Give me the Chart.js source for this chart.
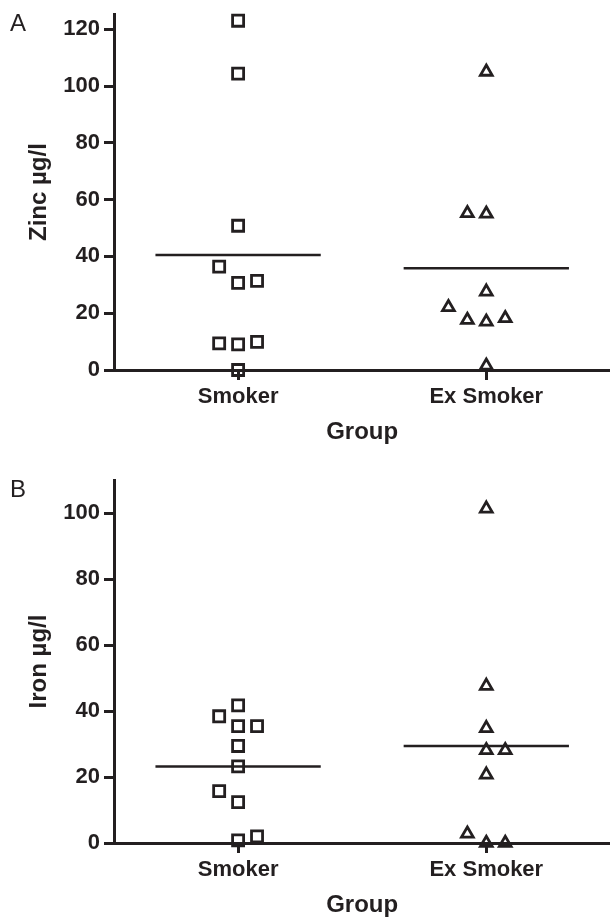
<!DOCTYPE html>
<html>
<head>
<meta charset="utf-8">
<script src="https://cdn.jsdelivr.net/npm/chart.js@4.4.1/dist/chart.umd.min.js"></script>
<style>
html, body { margin: 0; padding: 0; background: #fff; overflow: hidden; }
canvas { display: block; }
#zincChart { margin-top: -3px; }
</style>
</head>
<body>
<canvas id="zincChart" width="621" height="450"></canvas>
<canvas id="ironChart" width="621" height="473"></canvas>
<script>
const groups = ["Smoker", "Ex Smoker"];

// zinc, ug/l  (slot = column-scatter position beside the centre)
const zincSmoker = [123, 104.4, 50.8, 36.4, 30.7, 31.4, 9.4, 9.0, 9.9, 0];
const zincSmokerSlot = [0, 0, 0, -1, 0, 1, -1, 0, 1, 0];
const zincExSmoker = [105, 55.2, 55, 27.6, 22.1, 17.6, 17, 18.2, 1.5];
const zincExSmokerSlot = [0, -1, 0, 0, -2, -1, 0, 1, 0];
const zincMeans = [40.5, 35.8];
const zincTicks = [0, 20, 40, 60, 80, 100, 120];

// iron, ug/l
const ironSmoker = [41.7, 38.4, 35.4, 35.4, 29.4, 23.2, 15.7, 12.4, 2.0, 0.8];
const ironSmokerSlot = [0, -1, 0, 1, 0, 0, -1, 0, 1, 0];
const ironExSmoker = [101.3, 47.6, 34.8, 28.1, 28.1, 20.7, 2.8, 0, 0];
const ironExSmokerSlot = [0, 0, 0, 0, 1, 0, -1, 0, 1];
const ironMeans = [23.2, 29.4];
const ironTicks = [0, 20, 40, 60, 80, 100];

const ink = "#231f20";
const fontFamily = "'Liberation Sans', Arial, Helvetica, sans-serif";
const slotWidth = 0.0763;
const meanHalf = 0.333;

function toPoints(values, slots, groupIndex) {
    return values.map((v, i) => ({ x: groupIndex + 1 + slots[i] * slotWidth, y: v }));
}

function meanLine(mean, groupIndex) {
    return {
        type: "line",
        data: [{ x: groupIndex + 1 - meanHalf, y: mean }, { x: groupIndex + 1 + meanHalf, y: mean }],
        borderColor: ink,
        borderWidth: 2.5,
        pointRadius: 0,
        showLine: true,
        clip: false
    };
}

const panelLetter = {
    id: "panelLetter",
    afterDraw(chart, args, opts) {
        let ctx = chart.ctx;
        ctx.save();
        ctx.fillStyle = ink;
        ctx.font = "24px " + fontFamily;
        ctx.textBaseline = "middle";
        ctx.fillText(opts.text, opts.x, opts.y);
        ctx.restore();
    }
};

function makeChart(id, letter, letterY, yTitle, yMax, ticks, smoker, smokerSlot, ex, exSlot, means, topPad) {
    let ctx = document.getElementById(id).getContext("2d");
    new Chart(ctx, {
        type: "scatter",
        data: {
            datasets: [
                {
                    data: toPoints(smoker, smokerSlot, 0),
                    pointStyle: "rect",
                    pointRadius: 7.8,
                    pointBorderWidth: 2.8,
                    pointBorderColor: ink,
                    pointBackgroundColor: "transparent",
                    clip: false
                },
                {
                    data: toPoints(ex, exSlot, 1),
                    pointStyle: "triangle",
                    pointRadius: 6.8,
                    pointBorderWidth: 2.8,
                    pointBorderColor: ink,
                    pointBackgroundColor: "transparent",
                    clip: false
                },
                meanLine(means[0], 0),
                meanLine(means[1], 1)
            ]
        },
        options: {
            responsive: false,
            animation: false,
            layout: { padding: { top: topPad, left: 0, right: 0, bottom: 0 } },
            plugins: {
                legend: { display: false },
                tooltip: { enabled: false },
                panelLetter: { text: letter, x: 10, y: letterY }
            },
            scales: {
                x: {
                    type: "linear",
                    min: 0.5,
                    max: 2.5,
                    afterBuildTicks: (s) => { s.ticks = groups.map((g, i) => ({ value: i + 1 })); },
                    afterFit: (s) => { s.height = 77; },
                    ticks: {
                        callback: (v) => groups[Math.round(v) - 1],
                        color: ink,
                        font: { family: fontFamily, size: 22, weight: "bold" },
                        padding: 4,
                        maxRotation: 0
                    },
                    grid: { drawOnChartArea: false, tickLength: 10, tickWidth: 3, tickColor: ink },
                    border: { color: ink, width: 3 },
                    title: {
                        display: true,
                        text: "Group",
                        color: ink,
                        font: { family: fontFamily, size: 24, weight: "bold" },
                        padding: { top: 0, bottom: 0 }
                    }
                },
                y: {
                    min: 0,
                    max: yMax,
                    afterBuildTicks: (s) => { s.ticks = ticks.map((t) => ({ value: t })); },
                    afterFit: (s) => { s.width = 114; },
                    ticks: {
                        color: ink,
                        font: { family: fontFamily, size: 22, weight: "bold" },
                        padding: 4
                    },
                    grid: { drawOnChartArea: false, tickLength: 10, tickWidth: 3, tickColor: ink },
                    border: { color: ink, width: 3 },
                    title: {
                        display: true,
                        text: yTitle,
                        color: ink,
                        font: { family: fontFamily, size: 24, weight: "bold" },
                        padding: { top: 25, bottom: 0 }
                    }
                }
            }
        },
        plugins: [panelLetter]
    });
}

makeChart("zincChart", "A", 27, "Zinc \u00b5g/l", 125.3, zincTicks,
    zincSmoker, zincSmokerSlot, zincExSmoker, zincExSmokerSlot, zincMeans, 14);
makeChart("ironChart", "B", 43, "Iron \u00b5g/l", 110, ironTicks,
    ironSmoker, ironSmokerSlot, ironExSmoker, ironExSmokerSlot, ironMeans, 33);
</script>
</body>
</html>
